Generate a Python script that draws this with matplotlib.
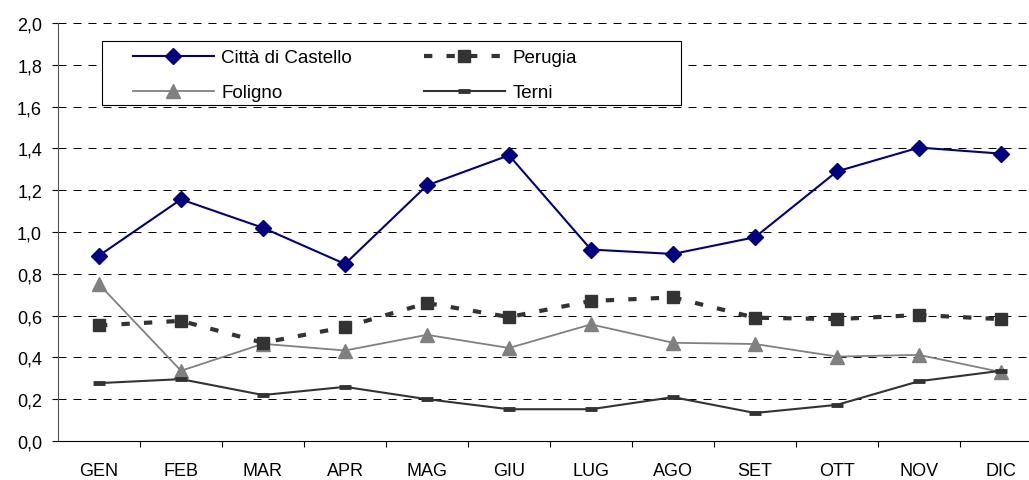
import matplotlib
matplotlib.use("Agg")
import matplotlib.pyplot as plt
from matplotlib.patches import Rectangle
from matplotlib.ticker import FixedLocator, FuncFormatter

plt.rcParams['font.family'] = ['Liberation Sans', 'DejaVu Sans']

# months and series values
mesi = ['GEN', 'FEB', 'MAR', 'APR', 'MAG', 'GIU', 'LUG', 'AGO', 'SET', 'OTT', 'NOV', 'DIC']
citta_di_castello = [0.887, 1.156, 1.02, 0.847, 1.223, 1.367, 0.916, 0.895, 0.975, 1.29, 1.404, 1.375]
perugia = [0.553, 0.575, 0.47, 0.545, 0.66, 0.593, 0.67, 0.687, 0.59, 0.583, 0.603, 0.583]
foligno = [0.75, 0.336, 0.465, 0.433, 0.508, 0.445, 0.558, 0.47, 0.464, 0.404, 0.412, 0.33]
terni = [0.277, 0.296, 0.22, 0.259, 0.2, 0.152, 0.152, 0.21, 0.134, 0.173, 0.286, 0.336]
y_ticks = [0.0, 0.2, 0.4, 0.6, 0.8, 1.0, 1.2, 1.4, 1.6, 1.8, 2.0]

W, H = 1029, 481
fig = plt.figure(figsize=(W / 100, H / 100), dpi=100)
# plot area runs past the right edge of the picture, like the original
ax = fig.add_axes([58 / W, (H - 442) / H, 984 / W, (442 - 24) / H])

x = range(len(mesi))

# dashed gridlines
for v in y_ticks[1:]:
    ax.axhline(v, color='black', lw=0.72, linestyle=(0, (8, 7)), zorder=1)

l_cdc, = ax.plot(x, citta_di_castello, color='#000080', lw=1.5, marker='D', markersize=8.5,
                 label='Città di Castello', zorder=5)
l_pg, = ax.plot(x, perugia, color='#333333', lw=3, linestyle=(0, (2.0, 3.4)), dash_capstyle='butt',
                marker='s', markersize=8.5, label='Perugia', zorder=4)
l_fo, = ax.plot(x, foligno, color='#808080', lw=1.3, marker='^', markersize=10,
                label='Foligno', zorder=3)
l_tr, = ax.plot(x, terni, color='#333333', lw=1.5, marker='_', markersize=9, markeredgewidth=3.5,
                label='Terni', zorder=3)

ax.set_xlim(-0.5, len(mesi) - 0.5)
ax.set_ylim(0, 2.0)

ax.set_xticks(list(x))
ax.set_xticklabels(mesi)
ax.xaxis.set_minor_locator(FixedLocator([i + 0.5 for i in range(len(mesi))]))
ax.tick_params(axis='x', which='major', length=0, pad=15, labelsize=13)
ax.tick_params(axis='x', which='minor', length=4, width=0.8, direction='out')

ax.set_yticks(y_ticks)
ax.yaxis.set_major_formatter(FuncFormatter(lambda v, p: f'{v:.1f}'.replace('.', ',')))
ax.tick_params(axis='y', length=4.5, width=0.8, pad=7, labelsize=13)

for s in ['top', 'right']:
    ax.spines[s].set_visible(False)
ax.spines['left'].set_color('#555555')
ax.spines['bottom'].set_color('black')
ax.spines['left'].set_linewidth(0.8)
ax.spines['bottom'].set_linewidth(0.8)

# legend box
fig.patches.append(Rectangle((102 / W, 1 - 106 / H), 579 / W, 64 / H, transform=fig.transFigure,
                             facecolor='white', edgecolor='black', lw=0.8, zorder=10))
# columns fill first: CdC/Foligno on the left, Perugia/Terni on the right
leg = fig.legend([l_cdc, l_fo, l_pg, l_tr], ['Città di Castello', 'Foligno', 'Perugia', 'Terni'],
                 loc='upper left', bbox_to_anchor=(133 / W, 1 - 50 / H), ncol=2, frameon=False,
                 fontsize=13.5, borderpad=0, borderaxespad=0, handlelength=4.3, handletextpad=0.4,
                 labelspacing=0.95, columnspacing=3.85, numpoints=1)
leg.set_zorder(11)

fig.savefig('out.png', dpi=100)
